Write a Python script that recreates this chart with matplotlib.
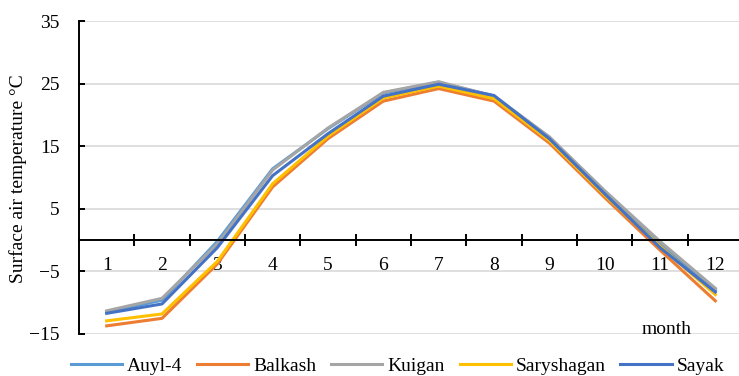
import matplotlib.pyplot as plt
from matplotlib.ticker import FixedLocator

plt.rcParams['font.family'] = ['Liberation Serif', 'DejaVu Serif']

months = list(range(1, 13))
auyl4 = [-11.5, -9.6, -0.2, 11.4, 17.8, 23.5, 25.2, 23.0, 16.4, 7.6, -0.6, -8.0]
balkash = [-13.7, -12.5, -3.8, 8.5, 16.2, 22.2, 24.2, 22.2, 15.5, 6.8, -1.6, -9.7]
kuigan = [-11.3, -9.3, -0.6, 11.2, 17.9, 23.6, 25.3, 23.0, 16.5, 7.9, -0.2, -7.7]
saryshagan = [-12.9, -11.8, -3.4, 9.0, 16.6, 22.7, 24.6, 22.6, 15.9, 7.2, -1.0, -8.7]
sayak = [-11.7, -10.2, -1.2, 10.3, 17.0, 23.0, 24.9, 23.1, 16.2, 7.4, -1.2, -8.3]

series = [
    ('Auyl-4', auyl4, '#5B9BD5'),
    ('Balkash', balkash, '#ED7D31'),
    ('Kuigan', kuigan, '#A5A5A5'),
    ('Saryshagan', saryshagan, '#FFC000'),
    ('Sayak', sayak, '#4472C4'),
]
y_ticks = [-15, -5, 5, 15, 25, 35]

fig = plt.figure(figsize=(7.39, 3.76), dpi=100)
ax = fig.add_axes([79 / 739, 42 / 376, 664 / 739, 313 / 376])

for name, vals, color in series:
    ax.plot(months, vals, color=color, lw=2.2, label=name)

ax.set_xlim(0.5, 12.5)
ax.set_ylim(-15, 35)
ax.set_yticks(y_ticks)
ax.yaxis.grid(True, color='#D9D9D9', lw=1.2)
ax.set_axisbelow(True)

# category axis drawn through zero, tick marks between months
ax.spines['bottom'].set_position(('data', 0))
ax.spines['top'].set_visible(False)
ax.spines['right'].set_visible(False)
for s in ('bottom', 'left'):
    ax.spines[s].set_linewidth(1.4)
    ax.spines[s].set_color('black')

ax.set_xticks(months)
ax.xaxis.set_minor_locator(FixedLocator([m + 0.5 for m in months[:-1]]))
ax.tick_params(axis='x', which='major', length=0, pad=12, labelsize=14)
ax.tick_params(axis='x', which='minor', direction='inout', length=9, width=1.4)
ax.tick_params(axis='y', direction='in', length=4, width=1.4, pad=14, labelsize=14)

ax.set_ylabel('Surface air temperature °C', fontsize=14)
ax.yaxis.set_label_coords(-0.079, 0.497)
ax.text(667 / 739, (376 - 329) / 376, 'month', transform=fig.transFigure,
        ha='center', va='center', fontsize=14)

fig.legend(loc='center', bbox_to_anchor=(0.538, 10 / 376), ncol=5, frameon=False,
           fontsize=14, handlelength=2.63, handletextpad=0.26, columnspacing=0.76,
           borderpad=0, borderaxespad=0)

fig.savefig('out.png', dpi=100)
